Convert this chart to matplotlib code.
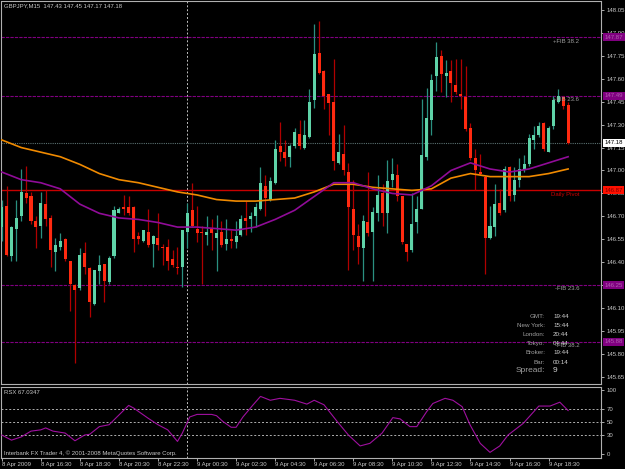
import matplotlib
matplotlib.use("Agg")
import matplotlib.pyplot as plt
import matplotlib.transforms as mtrans
import numpy as np

# GBPJPY M15, 8 Apr 14:30 .. 9 Apr 19:30 (one bar per 15 min)
opens = [146.63, 146.77, 146.44, 146.62, 146.70, 146.85, 146.83, 146.67, 146.64, 146.78,
         146.69, 146.47, 146.50, 146.55, 146.41, 146.25, 146.23, 146.46, 146.36, 146.13,
         146.34, 146.39, 146.27, 146.44, 146.72, 146.76, 146.76, 146.76, 146.57, 146.54,
         146.60, 146.52, 146.56, 146.50, 146.50, 146.42, 146.37, 146.37, 146.60, 146.74,
         146.62, 146.60, 146.58, 146.62, 146.56, 146.60, 146.52, 146.55, 146.53, 146.58,
         146.69, 146.68, 146.70, 146.75, 146.90, 146.81, 146.92, 147.16, 147.12, 147.09,
         147.16, 147.24, 147.15, 147.22, 147.46, 147.77, 147.65, 147.50, 147.45, 147.05,
         147.11, 146.99, 146.75, 146.57, 146.49, 146.66, 146.60, 146.72, 146.85, 146.72,
         146.94, 146.97, 146.83, 146.52, 146.48, 146.66, 146.75, 147.09, 147.33, 147.62,
         147.75, 147.62, 147.65, 147.56, 147.50, 147.48, 147.28, 147.08, 146.99, 146.96,
         146.56, 146.63, 146.79, 146.74, 147.02, 146.84, 146.94, 147.00, 147.04, 147.20,
         147.23, 147.31, 147.12, 147.29, 147.45, 147.48, 147.43]
highs = [146.81, 146.90, 146.64, 146.81, 147.01, 147.03, 146.86, 146.70, 146.86, 146.87,
         146.71, 146.56, 146.59, 146.56, 146.41, 146.26, 146.49, 146.53, 146.37, 146.35,
         146.45, 146.39, 146.44, 146.77, 146.76, 146.84, 146.83, 146.77, 146.60, 146.61,
         146.75, 146.58, 146.72, 146.52, 146.55, 146.48, 146.50, 146.61, 146.79, 146.92,
         146.77, 146.64, 146.70, 146.68, 146.71, 146.67, 146.68, 146.61, 146.67, 146.71,
         146.80, 146.73, 146.79, 147.02, 146.97, 146.96, 147.20, 147.32, 147.20, 147.17,
         147.28, 147.33, 147.33, 147.53, 147.96, 147.98, 147.66, 147.50, 147.73, 147.24,
         147.30, 147.05, 146.94, 146.65, 146.71, 146.99, 146.76, 146.97, 146.91, 147.07,
         147.08, 147.04, 146.83, 146.52, 146.85, 146.83, 147.47, 147.54, 147.63, 147.84,
         147.79, 147.72, 147.72, 147.73, 147.73, 147.68, 147.31, 147.14, 147.11, 146.97,
         146.77, 146.91, 146.88, 147.03, 147.03, 147.02, 147.08, 147.10, 147.24, 147.29,
         147.32, 147.32, 147.29, 147.49, 147.53, 147.49, 147.45]
lows = [146.54, 146.44, 146.41, 146.41, 146.67, 146.79, 146.65, 146.49, 146.56, 146.64,
        146.37, 146.34, 146.48, 146.41, 146.08, 145.74, 146.22, 146.32, 146.04, 146.12,
        146.26, 146.14, 146.26, 146.43, 146.72, 146.71, 146.71, 146.47, 146.52, 146.53,
        146.50, 146.37, 146.48, 146.38, 146.35, 146.37, 146.32, 146.24, 146.49, 146.63,
        146.53, 146.26, 146.51, 146.48, 146.34, 146.50, 146.48, 146.49, 146.49, 146.57,
        146.58, 146.60, 146.63, 146.74, 146.70, 146.80, 146.91, 147.06, 147.03, 147.02,
        147.15, 147.14, 147.14, 147.21, 147.41, 147.63, 147.40, 147.23, 147.00, 147.04,
        146.97, 146.35, 146.48, 146.39, 146.28, 146.57, 146.28, 146.67, 146.64, 146.59,
        146.89, 146.80, 146.52, 146.41, 146.47, 146.59, 146.75, 147.07, 147.23, 147.52,
        147.51, 147.48, 147.45, 147.50, 147.40, 147.26, 147.07, 146.87, 146.97, 146.32,
        146.55, 146.57, 146.71, 146.73, 146.80, 146.80, 146.89, 146.99, 147.03, 147.14,
        147.22, 147.13, 147.12, 147.27, 147.44, 147.40, 147.17]
closes = [146.76, 146.45, 146.63, 146.69, 146.86, 146.82, 146.67, 146.63, 146.79, 146.68,
          146.48, 146.51, 146.54, 146.42, 146.26, 146.22, 146.45, 146.37, 146.14, 146.35,
          146.38, 146.28, 146.43, 146.74, 146.75, 146.75, 146.72, 146.55, 146.55, 146.61,
          146.51, 146.57, 146.51, 146.49, 146.41, 146.38, 146.36, 146.61, 146.72, 146.64,
          146.59, 146.59, 146.60, 146.59, 146.59, 146.51, 146.55, 146.54, 146.57, 146.68,
          146.67, 146.70, 146.76, 146.92, 146.82, 146.93, 147.14, 147.12, 147.08, 147.16,
          147.25, 147.16, 147.23, 147.45, 147.76, 147.64, 147.49, 147.44, 147.06, 147.12,
          147.00, 146.76, 146.58, 146.50, 146.67, 146.59, 146.73, 146.84, 146.72, 146.93,
          146.98, 146.83, 146.53, 146.47, 146.65, 146.75, 147.10, 147.34, 147.59, 147.74,
          147.63, 147.64, 147.57, 147.51, 147.49, 147.27, 147.08, 147.00, 146.98, 146.56,
          146.64, 146.78, 146.72, 147.01, 146.83, 146.94, 147.01, 147.04, 147.21, 147.23,
          147.29, 147.14, 147.28, 147.46, 147.49, 147.42, 147.18]

# moving averages, read every 4th bar
ma_bars = [0, 4, 8, 12, 16, 20, 24, 28, 32, 36, 40, 44, 48, 52, 56,
           60, 64, 68, 72, 76, 80, 84, 88, 92, 96, 100, 104, 108, 112, 116]
ma_slow = [147.20, 147.15, 147.12, 147.09, 147.04, 146.98, 146.94, 146.92, 146.89, 146.86,
           146.84, 146.81, 146.80, 146.80, 146.81, 146.82, 146.86, 146.91, 146.91, 146.89,
           146.88, 146.87, 146.88, 146.95, 146.98, 146.96, 146.96, 146.96, 146.98, 147.01]
ma_fast = [146.99, 146.94, 146.92, 146.88, 146.78, 146.72, 146.69, 146.68, 146.66, 146.63,
           146.63, 146.62, 146.61, 146.63, 146.68, 146.74, 146.83, 146.92, 146.92, 146.88,
           146.85, 146.84, 146.90, 147.00, 147.05, 147.01, 146.99, 147.01, 147.05, 147.09]

# RSX oscillator
rsx_bars = [0, 2, 4, 6, 8, 9, 10.5, 13, 15, 17, 18, 20, 22, 24, 26, 27, 30, 32, 34, 36,
            37, 38.5, 40, 43, 44, 45.3, 47, 48, 49.4, 51.5, 53, 55, 57, 60, 62.5, 64, 66,
            68.7, 71, 73.4, 75.4, 77.9, 80.1, 81.6, 83.6, 85, 87, 88.3, 90.8, 92.4, 94.3,
            95.9, 98, 100, 102, 103.7, 106.8, 110, 112.3, 114.3, 116]
rsx_vals = [30, 22, 27, 36, 38, 41, 36, 33, 21, 30, 31, 43, 46, 61, 76, 72, 56, 46, 38, 20,
            33, 58, 62, 62, 60, 51, 42, 42, 58, 77, 90, 84, 87, 84, 78, 84, 77,
            51, 30, 13, 17, 33, 57, 55, 43, 43, 66, 79, 87, 84, 74,
            46, 17, 3, 13, 30, 48, 75, 75, 81, 68]

fib_levels = [147.87, 147.49, 146.25, 145.88]
fib_names = ["+FIB 38.2", "+FIB 23.6", "-FIB 23.6", "-FIB 38.2"]
pivot = 146.87
last_price = 147.18

time_ticks = [0, 8, 16, 24, 32, 40, 48, 56, 64, 72, 80, 88, 96, 104, 112]
time_labels = ["8 Apr 2009", "8 Apr 16:30", "8 Apr 18:30", "8 Apr 20:30", "8 Apr 22:30",
               "9 Apr 00:30", "9 Apr 02:30", "9 Apr 04:30", "9 Apr 06:30", "9 Apr 08:30",
               "9 Apr 10:30", "9 Apr 12:30", "9 Apr 14:30", "9 Apr 16:30", "9 Apr 18:30"]
price_ticks = [148.05, 147.90, 147.75, 147.60, 147.45, 147.30, 147.15, 147.00, 146.85,
               146.70, 146.55, 146.40, 146.25, 146.10, 145.95, 145.80, 145.65]
# tick values hidden behind the coloured price boxes
hidden_ticks = [146.25]

info_names = ["GMT:", "New York:", "London:", "Tokyo:", "Broker:", "Bar:"]
info_vals = ["19:44", "15:44", "20:44", "04:44", "19:44", "00:14"]

plt.rcParams['font.family'] = ['Liberation Sans', 'DejaVu Sans']

W, H = 625.0, 469.0
FG = "#c8c8c8"
UP, DN = "#5fd3a8", "#ff2a10"
UPW, DNW = "#2a9080", "#b00000"

fig = plt.figure(figsize=(W / 100, H / 100), dpi=100, facecolor="black")
ax = fig.add_axes([1.5 / W, 1 - 384 / H, 599.5 / W, 382.5 / H], facecolor="black")
ind = fig.add_axes([1.5 / W, 1 - 457.5 / H, 599.5 / W, 71 / H], facecolor="black")

step = 4.883
xmin = -0.04
xmax = xmin + 599.5 / step

o = np.array(opens); h = np.array(highs); l = np.array(lows); c = np.array(closes)
xs = np.arange(len(o))
up = c >= o
ax.vlines(xs[up], l[up], h[up], color=UPW, lw=0.9, zorder=3)
ax.vlines(xs[~up], l[~up], h[~up], color=DNW, lw=0.9, zorder=3)
body = np.maximum(np.abs(c - o), 0.006)
ax.bar(xs, body, bottom=np.minimum(o, c), width=0.62,
       color=np.where(up, UP, DN), linewidth=0, zorder=4)

ax.plot(ma_bars, ma_slow, color="#f08a00", lw=1.2, zorder=5)
ax.plot(ma_bars, ma_fast, color="#900c98", lw=1.2, zorder=5)

for lev in fib_levels:
    ax.axhline(lev, color="#800080", lw=0.8, ls=(0, (3, 1)), zorder=2)
ax.axhline(pivot, color="#c80000", lw=1.0, zorder=2)
ax.axhline(last_price, color="#5a7070", lw=0.8, ls=(0, (1, 1)), zorder=2)

lab_x = [112.9, 112.9, 113.3, 113.3]
for lev, name, lx in zip(fib_levels, fib_names, lab_x):
    ax.text(lx, lev - 0.008, name, color="#a0a0a0", fontsize=4.3, va="top", ha="left", zorder=6)
ax.text(112.5, pivot - 0.008, "Daily Pivot", color="#d00000", fontsize=4.3, va="top", zorder=6)

ax.set_xlim(xmin, xmax)
ax.set_ylim(145.604, 148.105)
ax.yaxis.tick_right()
ax.set_yticks(price_ticks)
ax.set_yticklabels(["" if p in hidden_ticks else "%.2f" % p for p in price_ticks])
ax.tick_params(axis="y", colors=FG, labelsize=4.3, length=2, width=0.6, pad=2)
ax.set_xticks([])

yt = mtrans.blended_transform_factory(ax.transAxes, ax.transData)
boxes = [(147.87, "#800080", "#b060b0"), (147.49, "#800080", "#b060b0"),
         (last_price, "#ffffff", "#000000"), (pivot, "#ff1000", "#800000"),
         (146.25, "#800080", "#b060b0"), (145.88, "#800080", "#b060b0")]
for lev, bg, fg in boxes:
    ax.text(1.006, lev, "%.2f" % lev, transform=yt, color=fg, fontsize=4.3, va="center",
            ha="left", clip_on=False, zorder=10,
            bbox=dict(boxstyle="square,pad=0.25", fc=bg, ec="none"))

for a in (ax, ind):
    for s in a.spines.values():
        s.set_color("#b0b0b0")
        s.set_linewidth(0.8)
    a.axvline(38, color="#c0c0c0", lw=0.7, ls=(0, (2, 2)), zorder=1)

ind.plot(rsx_bars, rsx_vals, color="#a010a0", lw=0.8, zorder=3)
for lev in (70, 50, 30):
    ind.axhline(lev, color="#b0b0b0", lw=0.7, ls=(0, (2, 2)), zorder=1)
ind.set_xlim(xmin, xmax)
ind.set_ylim(-5.0, 105.4)
ind.yaxis.tick_right()
ind.set_yticks([100, 70, 50, 30, 0])
ind.tick_params(axis="y", colors=FG, labelsize=4.3, length=2, width=0.6, pad=2)
ind.set_xticks(time_ticks)
ind.set_xticklabels(time_labels)
ind.tick_params(axis="x", colors=FG, labelsize=4.3, length=2, width=0.6, pad=1.5)
for t in ind.get_xticklabels():
    t.set_ha("left")

fig.text(4 / W, 1 - 6 / H, "GBPJPY,M15  147.43 147.45 147.17 147.18", color=FG,
         fontsize=4.3, va="center")
fig.text(4 / W, 1 - 392 / H, "RSX 67.0347", color=FG, fontsize=4.3, va="center")
fig.text(4 / W, 1 - 453 / H, "Interbank FX Trader 4, \u00a9 2001-2008 MetaQuotes Software Corp.",
         color=FG, fontsize=4.3, va="center")

for k, (nm, vl) in enumerate(zip(info_names, info_vals)):
    yy = 1 - (316 + 9.2 * k) / H
    fig.text(545 / W, yy, nm, color="#a0a0a0", fontsize=4.5, ha="right", va="center")
    fig.text(553 / W, yy, vl, color="#d0d0d0", fontsize=4.5, ha="left", va="center")
fig.text(545 / W, 1 - 371 / H, "Spread:", color="#a0a0a0", fontsize=6, ha="right", va="center")
fig.text(553 / W, 1 - 371 / H, "9", color="#d0d0d0", fontsize=6, ha="left", va="center")

fig.savefig("out.png", dpi=100, facecolor="black")
